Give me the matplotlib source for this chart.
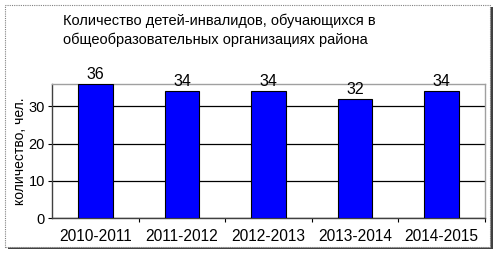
import matplotlib
matplotlib.use("Agg")
import matplotlib.pyplot as plt
from matplotlib.patches import Rectangle

# data
years = ["2010-2011", "2011-2012", "2012-2013", "2013-2014", "2014-2015"]
children = [36, 34, 34, 32, 34]
y_ticks = [0, 10, 20, 30]

plt.rcParams['font.family'] = ['Liberation Sans', 'DejaVu Sans']

fig = plt.figure(figsize=(5.0, 2.58), dpi=100)
W, H = 500, 258

# outer chart frame: shadow + dotted border
fig.patches.append(Rectangle((8 / W, 1 - 249 / H), 485 / W, 242 / H,
                             transform=fig.transFigure, facecolor='#404040',
                             edgecolor='none', zorder=0))
fig.patches.append(Rectangle((5 / W, 1 - 247 / H), 485 / W, 242 / H,
                             transform=fig.transFigure, facecolor='white',
                             edgecolor='#808080', linestyle=(0, (1, 1)),
                             linewidth=0.8, zorder=1))

ax = fig.add_axes([52 / W, 1 - 218.3 / H, 433 / W, 134.3 / H])
ax.set_zorder(2)
x = range(len(years))
bars = ax.bar(x, children, width=0.4, color='#0000FF', edgecolor='black',
              linewidth=0.8, zorder=3)
for xi, v in zip(x, children):
    ax.text(xi, v + 0.6, str(v), ha='center', va='bottom', fontsize=11.5)

ax.set_xlim(-0.5, len(years) - 0.5)
ax.set_ylim(0, 36)
ax.set_yticks(y_ticks)
ax.set_xticks([i + 0.5 for i in range(len(years))])
ax.set_xticklabels([])
ax.set_xticks(list(x), minor=True)
ax.set_xticklabels(years, minor=True, fontsize=11.2)
ax.tick_params(axis='x', which='minor', length=0, pad=8)
ax.tick_params(axis='x', which='major', length=3, direction='out', color='black')
ax.tick_params(axis='y', length=3, direction='out', labelsize=10.5, pad=2)
ax.grid(axis='y', color='black', linewidth=0.9, zorder=1)
ax.set_axisbelow(True)

ax.spines['top'].set_color('#A0A0A0')
ax.spines['right'].set_color('#A0A0A0')
ax.spines['left'].set_color('#404040')
ax.spines['bottom'].set_color('#404040')
for s in ax.spines.values():
    s.set_linewidth(1.0)

ax.set_ylabel("количество, чел.", fontsize=10, labelpad=1)

fig.text(63 / W, 1 - 21 / H, "Количество детей-инвалидов, обучающихся в",
         ha='left', va='center', fontsize=10.5)
fig.text(63 / W, 1 - 40 / H, "общеобразовательных организациях района",
         ha='left', va='center', fontsize=10.5)

fig.savefig("out.png", dpi=100)
